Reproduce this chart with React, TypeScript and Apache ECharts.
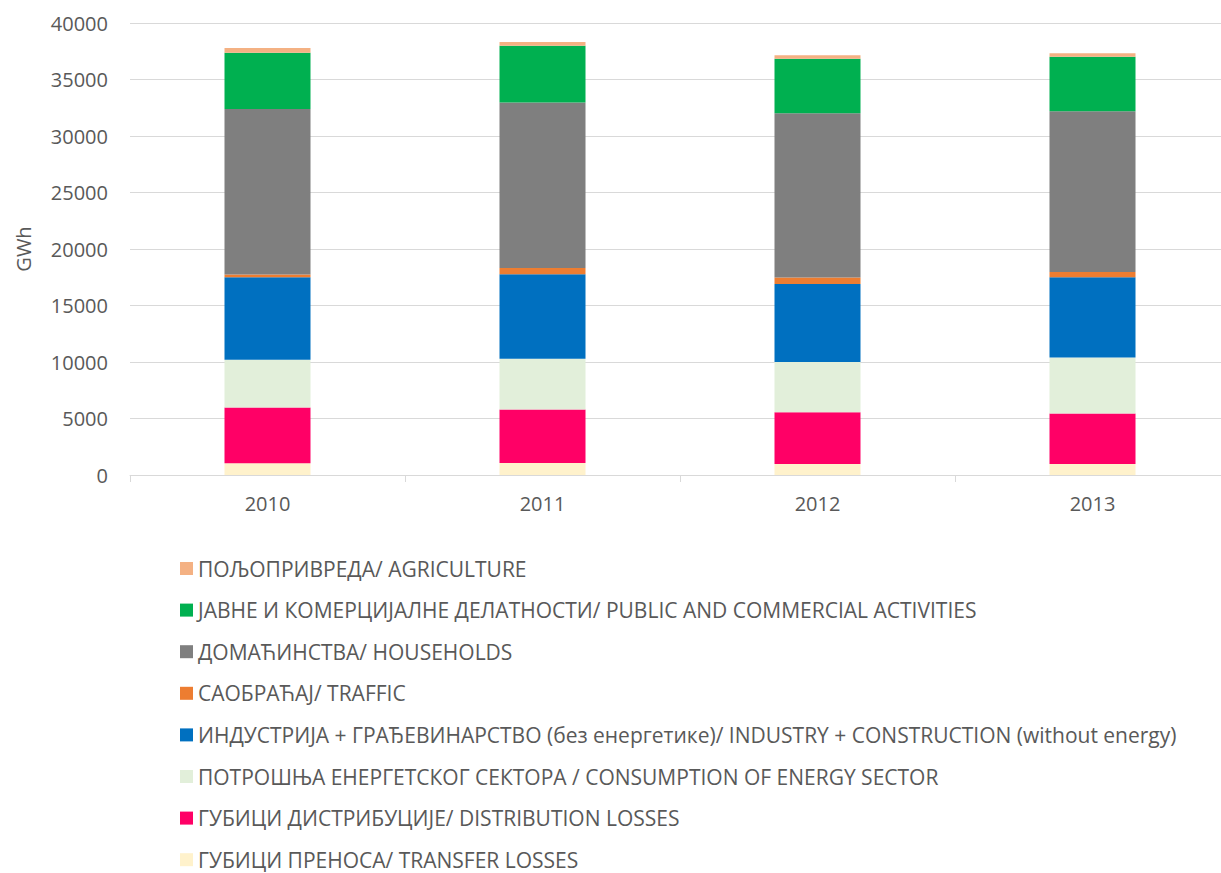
import React, { useEffect, useRef } from "react";
import * as echarts from "echarts";

// Years on the category axis
const years = ["2010", "2011", "2012", "2013"];

// Electricity consumption by sector, GWh (stacked bottom to top)
const transferLosses = [1035, 1064, 975, 975];
const distributionLosses = [4936, 4730, 4582, 4464];
const energySector = [4227, 4493, 4434, 4966];
const industry = [7302, 7478, 6917, 7095];
const traffic = [236, 562, 562, 472];
const households = [14662, 14632, 14543, 14219];
const publicCommercial = [4967, 5026, 4818, 4819];
const agriculture = [413, 325, 325, 324];

const yTicks = { min: 0, max: 40000, interval: 5000 };

const FONT = "'Open Sans', 'Noto Sans', sans-serif";
const TEXT_COLOR = "#595959";

const seriesDefs = [
  { name: "ГУБИЦИ ПРЕНОСА/ TRANSFER LOSSES", data: transferLosses, color: "#FFF2CC" },
  { name: "ГУБИЦИ ДИСТРИБУЦИЈЕ/ DISTRIBUTION LOSSES", data: distributionLosses, color: "#FF0066" },
  { name: "ПОТРОШЊА ЕНЕРГЕТСКОГ СЕКТОРА / CONSUMPTION OF ENERGY SECTOR", data: energySector, color: "#E2EFDA" },
  { name: "ИНДУСТРИЈА + ГРАЂЕВИНАРСТВО (без енергетике)/ INDUSTRY + CONSTRUCTION (without energy)", data: industry, color: "#0070C0" },
  { name: "САОБРАЋАЈ/ TRAFFIC", data: traffic, color: "#ED7D31" },
  { name: "ДОМАЋИНСТВА/ HOUSEHOLDS", data: households, color: "#7F7F7F" },
  { name: "ЈАВНЕ И КОМЕРЦИЈАЛНЕ ДЕЛАТНОСТИ/ PUBLIC AND COMMERCIAL ACTIVITIES", data: publicCommercial, color: "#00B050" },
  { name: "ПОЉОПРИВРЕДА/ AGRICULTURE", data: agriculture, color: "#F4B183" },
];

export default function App() {
  const ref = useRef<HTMLDivElement>(null);

  useEffect(() => {
    if (!ref.current) return;
    const chart = echarts.init(ref.current, null, { renderer: "svg" });
    chart.setOption({
      animation: false,
      backgroundColor: "#ffffff",
      // the plot runs a little past the visible right edge
      grid: { left: 130, width: 1100, top: 23, height: 452, containLabel: false },
      legend: {
        orient: "vertical",
        left: 175,
        top: 553,
        height: 330,
        itemWidth: 13,
        itemHeight: 13,
        itemGap: 20.6,
        icon: "rect",
        data: seriesDefs.map((s) => s.name).reverse(),
        textStyle: { color: TEXT_COLOR, fontFamily: FONT, fontSize: 21, lineHeight: 20 },
      },
      xAxis: {
        type: "category",
        data: years,
        axisLine: { show: true, lineStyle: { color: "#D9D9D9", width: 1 } },
        axisTick: { show: true, alignWithLabel: false, length: 7, lineStyle: { color: "#D9D9D9" } },
        axisLabel: { color: TEXT_COLOR, fontFamily: FONT, fontSize: 20, margin: 18 },
      },
      yAxis: {
        type: "value",
        min: yTicks.min,
        max: yTicks.max,
        interval: yTicks.interval,
        axisLine: { show: false },
        axisTick: { show: false },
        splitLine: { lineStyle: { color: "#D9D9D9", width: 1 } },
        axisLabel: {
          color: TEXT_COLOR,
          fontFamily: FONT,
          fontSize: 20,
          margin: 22,
          formatter: (v: number) => String(v),
        },
      },
      graphic: [
        {
          type: "text",
          x: 23,
          y: 249,
          rotation: Math.PI / 2,
          style: {
            text: "GWh",
            fill: TEXT_COLOR,
            font: `20px ${FONT}`,
            align: "center",
            verticalAlign: "middle",
          },
        },
      ],
      series: seriesDefs.map((s) => ({
        name: s.name,
        type: "bar",
        stack: "total",
        barWidth: 86,
        data: s.data,
        itemStyle: { color: s.color },
      })),
    });
    return () => chart.dispose();
  }, []);

  return (
    <div
      style={{
        position: "absolute",
        left: 0,
        top: 0,
        width: 1221,
        height: 873,
        overflow: "hidden",
        background: "#ffffff",
      }}
    >
      <div ref={ref} style={{ width: 1240, height: 873 }} />
    </div>
  );
}
